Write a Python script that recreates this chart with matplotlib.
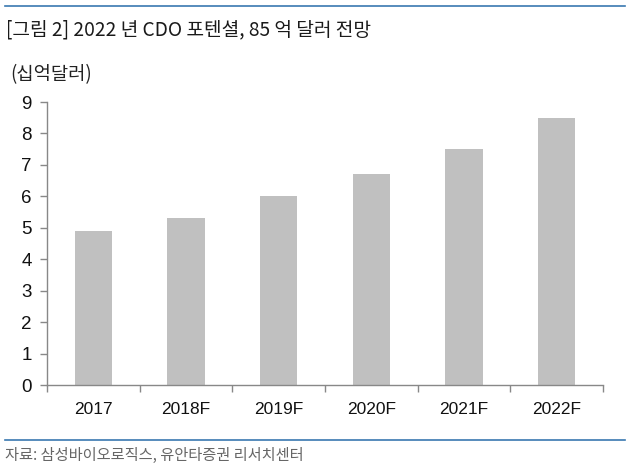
import matplotlib
matplotlib.use("Agg")
import matplotlib.pyplot as plt
from matplotlib.lines import Line2D
import numpy as np

plt.rcParams['font.family'] = ['Noto Sans CJK KR', 'DejaVu Sans']

categories = ["2017", "2018F", "2019F", "2020F", "2021F", "2022F"]
values = [4.9, 5.3, 6.0, 6.7, 7.5, 8.5]
yticks = list(range(0, 10))
title = "[그림 2] 2022 년 CDO 포텐셜, 85 억 달러 전망"
unit = "(십억달러)"
source = "자료: 삼성바이오로직스, 유안타증권 리서치센터"

W, H = 630, 466
fig = plt.figure(figsize=(W / 100, H / 100), dpi=100)
fig.patch.set_facecolor("white")

ax = fig.add_axes([47 / W, 1 - 385 / H, (603 - 47) / W, (385 - 102) / H])
x = np.arange(len(categories))
ax.bar(x, values, width=0.4, color="#c0c0c0", zorder=2)
ax.set_xlim(-0.5, len(categories) - 0.5)
ax.set_ylim(0, 9)
ax.set_yticks(yticks)
ax.set_yticklabels([str(t) for t in yticks], fontsize=13.5, color="#111111",
                   family=['Liberation Sans', 'DejaVu Sans'])
ax.set_xticks(x)
ax.set_xticklabels(categories, fontsize=12.5, color="#111111",
                   family=['Liberation Sans', 'DejaVu Sans'])
ax.tick_params(axis='x', length=0, pad=12)
ax.set_xticks(np.arange(-0.5, len(categories), 1.0), minor=True)
ax.tick_params(axis='x', which='minor', length=5, color="#888888", width=1)
ax.tick_params(axis='y', length=5, color="#888888", width=1, pad=6)
for s in ["top", "right"]:
    ax.spines[s].set_visible(False)
for s in ["left", "bottom"]:
    ax.spines[s].set_color("#888888")
    ax.spines[s].set_linewidth(1)

# decoration lines
fig.add_artist(Line2D([5 / W, 625 / W], [1 - 6 / H, 1 - 6 / H], color="#3a78b0", lw=1.2))
fig.add_artist(Line2D([5 / W, 625 / W], [1 - 440 / H, 1 - 440 / H], color="#3a78b0", lw=1.2))

fig.text(6 / W, 1 - 30 / H, title, fontsize=13.8, color="#1a1a1a", va="center", ha="left")
fig.text(10 / W, 1 - 75 / H, unit, fontsize=13.5, color="#222222", va="center", ha="left")
fig.text(5 / W, 1 - 455 / H, source, fontsize=11, color="#666666", va="center", ha="left")

fig.savefig("out.png", dpi=100, facecolor="white")
